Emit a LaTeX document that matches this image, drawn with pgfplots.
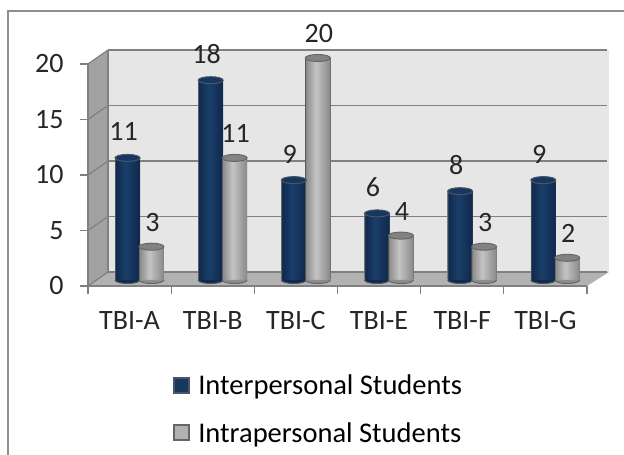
\documentclass[border=0pt]{standalone}
\usepackage{pgfplots}
\usepackage{fontspec}
\setmainfont{Carlito}
\pgfplotsset{compat=1.18}
\definecolor{framegray}{HTML}{8E8E8E}
\definecolor{wallback}{HTML}{E6E6E6}
\definecolor{wallside}{HTML}{A2A2A2}
\definecolor{floorc}{HTML}{B2B2B2}
\definecolor{gridc}{HTML}{808080}
\definecolor{blueedge}{HTML}{4A5566}
\definecolor{blued}{HTML}{10294D}
\definecolor{bluem}{HTML}{1A3F6B}
\definecolor{bluetop}{HTML}{17375E}
\definecolor{grayedge}{HTML}{666666}
\definecolor{grayd}{HTML}{8C8C8C}
\definecolor{graym}{HTML}{C4C4C4}
\definecolor{graytop}{HTML}{828282}
\pgfdeclarehorizontalshading{cylblue}{100bp}{color(0bp)=(blueedge); color(25bp)=(blueedge); color(26.5bp)=(blued); color(46bp)=(bluem); color(73bp)=(blued); color(75bp)=(blueedge); color(100bp)=(blueedge)}
\pgfdeclarehorizontalshading{cylgray}{100bp}{color(0bp)=(grayedge); color(25bp)=(grayedge); color(26.5bp)=(grayd); color(46bp)=(graym); color(73bp)=(grayd); color(75bp)=(grayedge); color(100bp)=(grayedge)}
\pgfdeclareplotmark{cyltop}{\pgfpathellipse{\pgfpointorigin}{\pgfqpoint{12.5pt}{0pt}}{\pgfqpoint{0pt}{3.5pt}}\pgfusepathqfillstroke}
\pgfdeclareplotmark{cylbase}{\pgfpathmoveto{\pgfqpoint{-12.5pt}{0pt}}\pgfpatharc{180}{360}{12.5pt and 3.5pt}\pgfusepathqfillstroke}
\newcommand\interbar[2]{%
 \addplot[forget plot,only marks,mark=cylbase,mark options={fill=blued,draw=blueedge,line width=1pt},yshift=6pt] coordinates {(#1,0)};
 \addplot[forget plot,ybar,bar width=25pt,bar shift=0pt,draw=none,shading=cylblue,yshift=6pt] coordinates {(#1,#2)};
 \addplot[forget plot,only marks,mark=cyltop,mark options={fill=bluetop,draw=blueedge,line width=1pt},yshift=6pt,
   nodes near coords,every node near coord/.append style={anchor=center,yshift=26pt,xshift=-4pt}] coordinates {(#1,#2)};
}
\newcommand\intrabar[2]{%
 \addplot[forget plot,only marks,mark=cylbase,mark options={fill=grayd,draw=grayedge,line width=1pt},yshift=6pt] coordinates {(#1,0)};
 \addplot[forget plot,ybar,bar width=25pt,bar shift=0pt,draw=none,shading=cylgray,yshift=6pt] coordinates {(#1,#2)};
 \addplot[forget plot,only marks,mark=cyltop,mark options={fill=graytop,draw=grayedge,line width=1pt},yshift=6pt,
   nodes near coords,every node near coord/.append style={anchor=center,yshift=24pt,xshift=1pt}] coordinates {(#1,#2)};
}
\begin{document}
\begin{tikzpicture}[x=1pt,y=1pt]
\path[use as bounding box,fill=white] (0,0) rectangle (624,455);
% chart frame
\draw[framegray,line width=2pt] (8,0) -- (8,444) -- (624,444);
% 3D walls
\fill[wallback] (108,183) rectangle (609,405);
\fill[wallside] (88,169) -- (108,183) -- (108,405) -- (88,391) -- cycle;
\fill[floorc] (88,169) -- (108,183) -- (609,183) -- (587,169) -- cycle;
\foreach \f in {0,...,4}{
  \draw[gridc,line width=1.2pt] (88,{169+\f*55.5}) -- (108,{183+\f*55.5});
}
\draw[gridc,line width=1.2pt] (108,183) -- (108,405);
\begin{axis}[
  at={(88pt,169pt)},anchor=south west,
  scale only axis,width=499pt,height=222pt,
  xmin=0,xmax=6,ymin=0,ymax=20,
  clip=false,
  axis x line*=bottom,axis y line*=left,
  axis line style={gridc,line width=1.2pt,-},
  xtick={0,...,6},
  x tick label as interval,
  xticklabels={TBI-A,TBI-B,TBI-C,TBI-E,TBI-F,TBI-G},
  ytick={0,5,10,15,20},
  tick style={gridc,line width=1.2pt},
  tick align=outside,
  major tick length=8pt,
  ymajorgrids,
  grid style={gridc,line width=1.5pt,shift={(20pt,14pt)}},
  /pgf/number format/assume math mode=true,
  tick label style={text=black!85,font=\fontsize{28}{28}\selectfont},
  yticklabel style={xshift=-13pt},
  xticklabel style={yshift=-14pt},
  legend cell align=left,
  legend style={at={(85pt,-87pt)},anchor=north west,draw=none,fill=none,
    font=\fontsize{28.5}{28.5}\selectfont,row sep=22pt,inner sep=0pt},
  legend image code/.code={\draw[#1,line width=1.8pt] (0pt,-7pt) rectangle (15pt,8pt);\path (22pt,0pt);},
  every node near coord/.append style={font=\fontsize{28}{28}\selectfont,text=black!85},
]
\interbar{0.475}{11}
\intrabar{0.763}{3}
\interbar{1.475}{18}
\intrabar{1.763}{11}
\interbar{2.475}{9}
\intrabar{2.763}{20}
\interbar{3.475}{6}
\intrabar{3.763}{4}
\interbar{4.475}{8}
\intrabar{4.763}{3}
\interbar{5.475}{9}
\intrabar{5.763}{2}
\addlegendimage{draw=blueedge,fill=bluetop}
\addlegendentry{Interpersonal Students}
\addlegendimage{draw=grayedge,fill=floorc}
\addlegendentry{Intrapersonal Students}
\end{axis}
\end{tikzpicture}
\end{document}
